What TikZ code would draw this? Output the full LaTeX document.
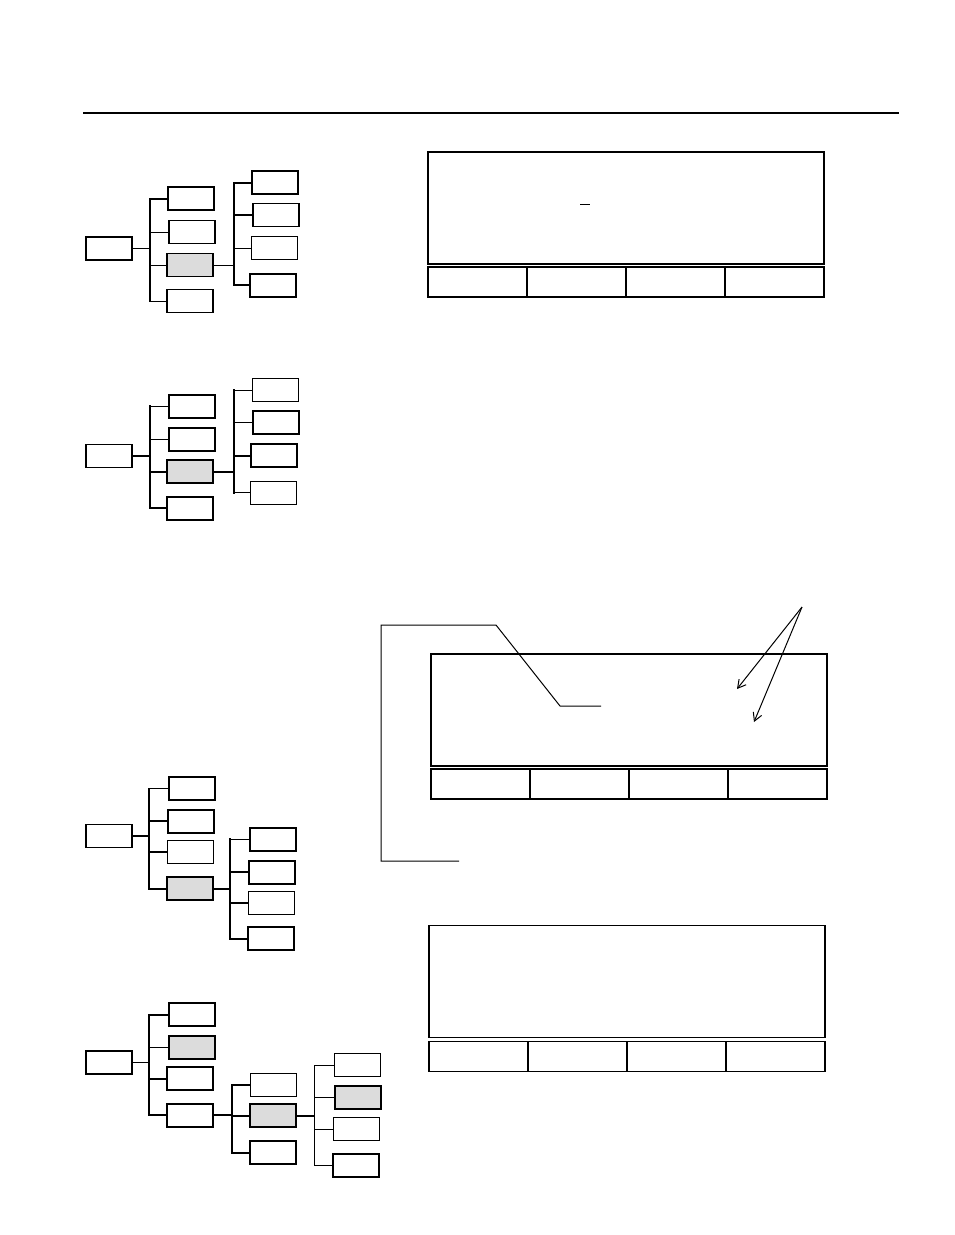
\documentclass[tikz,border=0pt]{standalone}
\usepackage{tikz}
\usetikzlibrary{arrows.meta,positioning}
\definecolor{selgray}{RGB}{220,220,220}

\begin{document}
\begin{tikzpicture}[x=1pt,y=-1pt,
  box/.style={draw,minimum width=46pt,minimum height=23pt,inner sep=0pt},
  heavy/.style={line width=2pt,line cap=rect},
  medium/.style={line width=1.5pt},
  light/.style={line width=1pt},
  sel/.style={fill=selgray},
  screen/.style={draw,line width=1.2pt,minimum width=396pt,minimum height=112pt,inner sep=0pt,outer sep=0pt},
  softkey/.style={draw,line width=1.2pt,minimum width=99pt,minimum height=30pt,inner sep=0pt,outer sep=0pt},
  lead/.style={line width=1pt},
  arr/.style={-{Straight Barb[length=8pt,width=9pt]},line width=1pt},
]
\useasboundingbox (0,0) rectangle (954,1235);
\draw[heavy] (84,113) -- (898,113);

% tree 1
\node[box,heavy] (t1root) at (109,248) {};
\node[box,heavy] (t1a) at (191,198.5) {};
\node[box,medium] (t1b) at (192,232) {};
\node[box,medium,sel] (t1c) at (190,265) {};
\node[box,medium] (t1d) at (190,301) {};
\node[box,heavy] (t1e) at (275,182.5) {};
\node[box,medium] (t1f) at (276,215) {};
\node[box,light] (t1g) at (274,248) {};
\node[box,heavy] (t1h) at (273,285) {};
\coordinate (t1bus) at (150,0);
\coordinate (t1bus2) at (234,0);
\draw[light] (t1root) -- (t1root -| t1bus);
\draw[heavy] (t1a -| t1bus) -- (t1d -| t1bus);
\foreach \n/\w in {a/heavy,b/light,c/light,d/light} \draw[\w] (t1\n) -- (t1\n -| t1bus);
\draw[light] (t1c) -- (t1c -| t1bus2);
\draw[heavy] (t1e -| t1bus2) -- (t1h -| t1bus2);
\foreach \n/\w in {e/heavy,f/heavy,g/light,h/heavy} \draw[\w] (t1\n) -- (t1\n -| t1bus2);

% tree 2
\node[box,medium] (t2root) at (109,456) {};
\node[box,heavy] (t2a) at (192,406) {};
\node[box,heavy] (t2b) at (192,439) {};
\node[box,medium,sel] (t2c) at (190,471.5) {};
\node[box,heavy] (t2d) at (190,508) {};
\node[box,light] (t2e) at (275,390) {};
\node[box,heavy] (t2f) at (276,422.5) {};
\node[box,heavy] (t2g) at (274,455.5) {};
\node[box,light] (t2h) at (273,492.5) {};
\coordinate (t2bus) at (150,0);
\coordinate (t2bus2) at (234,0);
\draw[heavy] (t2root) -- (t2root -| t2bus);
\draw[heavy] (t2a -| t2bus) -- (t2d -| t2bus);
\foreach \n/\w in {a/light,b/light,c/heavy,d/heavy} \draw[\w] (t2\n) -- (t2\n -| t2bus);
\draw[heavy] (t2c) -- (t2c -| t2bus2);
\draw[heavy] (t2e -| t2bus2) -- (t2h -| t2bus2);
\foreach \n/\w in {e/light,f/light,g/heavy,h/light} \draw[\w] (t2\n) -- (t2\n -| t2bus2);

% tree 3
\node[box,medium] (t3root) at (109,836) {};
\node[box,heavy] (t3a) at (192,788.5) {};
\node[box,heavy] (t3b) at (191,821) {};
\node[box,light] (t3c) at (190,851.5) {};
\node[box,heavy,sel] (t3d) at (190,888.5) {};
\node[box,heavy] (t3e) at (273,839) {};
\node[box,heavy] (t3f) at (272,872) {};
\node[box,light] (t3g) at (271,902.5) {};
\node[box,heavy] (t3h) at (271,938.5) {};
\coordinate (t3bus) at (149,0);
\coordinate (t3bus2) at (230,0);
\draw[heavy] (t3root) -- (t3root -| t3bus);
\draw[heavy] (t3a -| t3bus) -- (t3d -| t3bus);
\foreach \n/\w in {a/light,b/heavy,c/heavy,d/heavy} \draw[\w] (t3\n) -- (t3\n -| t3bus);
\draw[heavy] (t3d) -- (t3d -| t3bus2);
\draw[heavy] (t3e -| t3bus2) -- (t3h -| t3bus2);
\foreach \n/\w in {e/light,f/heavy,g/heavy,h/heavy} \draw[\w] (t3\n) -- (t3\n -| t3bus2);

% tree 4
\node[box,heavy] (t4root) at (109,1062) {};
\node[box,heavy] (t4a) at (192,1014.5) {};
\node[box,heavy,sel] (t4b) at (192,1047) {};
\node[box,heavy] (t4c) at (190,1078.5) {};
\node[box,heavy] (t4d) at (190,1115) {};
\node[box,light] (t4e) at (273,1085) {};
\node[box,heavy,sel] (t4f) at (273,1115.5) {};
\node[box,heavy] (t4g) at (273,1152.5) {};
\node[box,light] (t4h) at (357.5,1065) {};
\node[box,heavy,sel] (t4i) at (357.5,1097.5) {};
\node[box,light] (t4j) at (356.5,1129) {};
\node[box,heavy] (t4k) at (356,1165) {};
\coordinate (t4bus) at (149,0);
\coordinate (t4bus2) at (232,0);
\coordinate (t4bus3) at (314,0);
\draw[light] (t4root) -- (t4root -| t4bus);
\draw[heavy] (t4a -| t4bus) -- (t4d -| t4bus);
\foreach \n/\w in {a/heavy,b/light,c/heavy,d/heavy} \draw[\w] (t4\n) -- (t4\n -| t4bus);
\draw[heavy] (t4d) -- (t4d -| t4bus2);
\draw[heavy] (t4e -| t4bus2) -- (t4g -| t4bus2);
\foreach \n/\w in {e/heavy,f/heavy,g/heavy} \draw[\w] (t4\n) -- (t4\n -| t4bus2);
\draw[heavy] (t4f) -- (t4f -| t4bus3);
\draw[light] (t4h -| t4bus3) -- (t4k -| t4bus3);
\foreach \n/\w in {h/light,i/light,j/light,k/light} \draw[\w] (t4\n) -- (t4\n -| t4bus3);

% screens
\node[screen] (s1) at (626,208) {};
\node[softkey,anchor=north west] (s1k1) at ([yshift=-3pt]s1.south west) {};
\foreach \i [count=\j] in {2,3,4} \node[softkey,right=0pt of s1k\j] (s1k\i) {};
\draw[light] (580,204) -- (590,204);

\node[screen] (s2) at (629,710) {};
\node[softkey,anchor=north west] (s2k1) at ([yshift=-3pt]s2.south west) {};
\foreach \i [count=\j] in {2,3,4} \node[softkey,right=0pt of s2k\j] (s2k\i) {};

\node[screen] (s3) at (627,981.5) {};
\node[softkey,anchor=north west] (s3k1) at ([yshift=-4pt]s3.south west) {};
\foreach \i [count=\j] in {2,3,4} \node[softkey,right=0pt of s3k\j] (s3k\i) {};

% callouts
\coordinate (cl1) at (381,625);
\coordinate (cl2) at (496,625);
\coordinate (cl3) at (560,706);
\coordinate (cl4) at (601,706);
\coordinate (cl5) at (381,861);
\coordinate (cl6) at (459,861);
\draw[lead] (cl4) -- (cl3) -- (cl2) -- (cl1) -- (cl5) -- (cl6);
\coordinate (asrc) at (802,607);
\coordinate (atgt1) at (737,689);
\coordinate (atgt2) at (754,722);
\draw[arr] (asrc) -- (atgt1);
\draw[arr] (asrc) -- (atgt2);
\end{tikzpicture}
\end{document}
